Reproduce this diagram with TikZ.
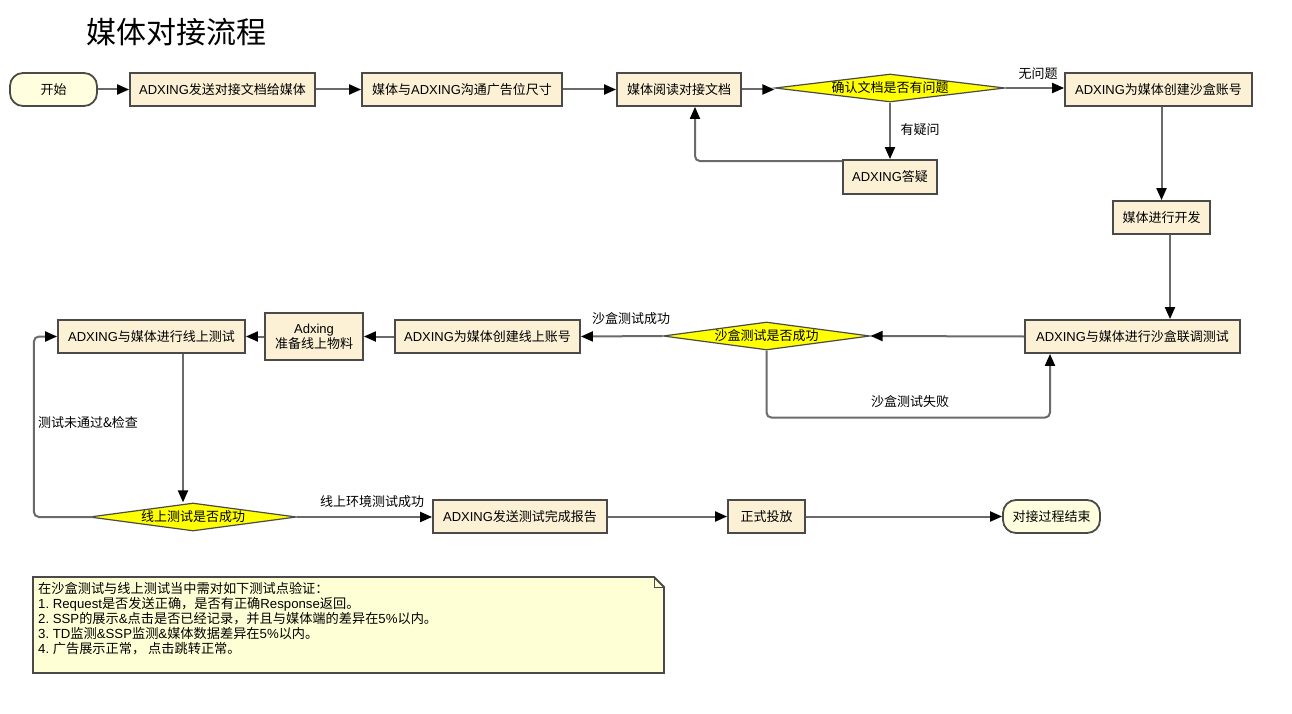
\documentclass[tikz,border=0pt]{standalone}
\usepackage{fontspec}
\setmainfont{Noto Sans CJK SC}
\newfontfamily\lat{Liberation Sans}
\usetikzlibrary{arrows.meta,shapes.geometric}
\definecolor{boxfill}{HTML}{FCF0D5}
\definecolor{termfill}{HTML}{FFFFDF}
\definecolor{notefill}{HTML}{FFFFD6}
\definecolor{bord}{HTML}{4A4A4A}
\definecolor{linec}{HTML}{6A6A6A}
\definecolor{decfill}{HTML}{FFFF00}
\begin{document}
\begin{tikzpicture}[x=1pt,y=-1pt,
  font=\fontsize{13}{15}\selectfont,
  proc/.style={draw=bord, line width=1.8pt, fill=boxfill, minimum height=33pt, inner sep=1pt, align=center},
  term/.style={proc, fill=termfill, rounded corners=13pt},
  dec/.style={diamond, draw=bord, line width=1.2pt, fill=decfill, inner sep=0pt, aspect=8, minimum height=28pt},
  arr/.style={draw=linec, line width=2pt, -{Triangle[length=12pt,width=10pt,fill=black,color=black]}},
  lab/.style={inner sep=0pt}
]
\useasboundingbox (0,0) rectangle (1292,714);

% title
\node[anchor=west, font=\fontsize{30}{34}\selectfont, inner sep=0pt] (title) at (86,32) {媒体对接流程};

% row 1
\node[term, minimum width=87pt] (start) at (53.5,89.5) {开始};
\node[proc, minimum width=185pt] (b1) at (222.5,89.5) {{\lat ADXING}发送对接文档给媒体};
\node[proc, minimum width=200pt] (b2) at (462,89.5) {媒体与{\lat ADXING}沟通广告位尺寸};
\node[proc, minimum width=124pt] (b3) at (679,89.5) {媒体阅读对接文档};
\node[dec, minimum width=230pt] (d1) at (890,88) {确认文档是否有问题};
\node[proc, minimum width=187pt] (s1) at (1158.5,89.5) {{\lat ADXING}为媒体创建沙盒账号};
\node[proc, minimum width=94pt, minimum height=34pt] (q) at (890,177) {{\lat ADXING}答疑};
\node[proc, minimum width=97pt] (dev) at (1161.5,217.5) {媒体进行开发};

% row 2
\node[proc, minimum width=215pt] (joint) at (1132.5,336.5) {{\lat ADXING}与媒体进行沙盒联调测试};
\node[dec, minimum width=207pt] (d2) at (766.5,336) {沙盒测试是否成功};
\node[proc, minimum width=185pt] (acc) at (487.5,336.5) {{\lat ADXING}为媒体创建线上账号};
\node[proc, minimum width=98pt, minimum height=47pt, inner sep=1pt,
      font=\fontsize{13}{13.5}\selectfont] (mat) at (314,336.5) {{\lat Adxing}\\准备线上物料};
\node[proc, minimum width=187pt] (ot) at (151.5,336.5) {{\lat ADXING}与媒体进行线上测试};

% row 3
\node[dec, minimum width=207pt] (d3) at (193,517) {线上测试是否成功};
\node[proc, minimum width=174pt] (rep) at (520,516.5) {{\lat ADXING}发送测试完成报告};
\node[proc, minimum width=77pt] (go) at (766.5,516.5) {正式投放};
\node[term, minimum width=97pt] (end) at (1051.5,516.5) {对接过程结束};

% connectors
\draw[arr] (start) -- (b1);
\draw[arr] (b1) -- (b2);
\draw[arr] (b2) -- (b3);
\draw[arr] (b3.east) -- (d1.west |- b3.east);
\draw[arr] (d1.east) -- (d1.east -| s1.west);
\node[lab] (l1) at (1038,74) {无问题};
\draw[arr] (d1.south) -- (q.north);
\node[lab] (l2) at (920,130) {有疑问};
\draw[arr, rounded corners=5pt] ([yshift=-2pt]q.north west) -| ([xshift=16pt]b3.south);
\draw[arr] (s1.south -| dev.north) -- (dev.north);
\draw[arr] ([xshift=8.5pt]dev.south) -- ([xshift=8.5pt]dev.south |- joint.north);
\draw[arr] (joint.west) -- (d2.east);
\draw[arr, rounded corners=5pt] (d2.south) -- ++(0,67) -| ([xshift=-82.5pt]joint.south);
\node[lab] (l3) at (910,402) {沙盒测试失败};
\draw[arr] (d2.west) -- (acc.east);
\node[lab] (l4) at (631,319) {沙盒测试成功};
\draw[arr] (acc.west) -- (mat.east |- acc.west);
\draw[arr] (mat.west |- ot.east) -- (ot.east);
\draw[arr] ([xshift=31.5pt]ot.south) -- ([xshift=31.5pt]ot.south |- d3.north);
\draw[arr, rounded corners=5pt] ([xshift=4pt]d3.west) -- ++(-59,0) |- (ot.west);
\node[lab] (l5) at (88,423) {测试未通过\&检查};
\draw[arr] (d3.east) -- (d3.east -| rep.west);
\node[lab] (l6) at (372,502) {线上环境测试成功};
\draw[arr] (rep) -- (go);
\draw[arr] (go) -- (end);

% note
\draw[draw=bord, line width=1.8pt, fill=notefill]
  (33,577) -- (654,577) -- (664,587) -- (664,673) -- (33,673) -- cycle;
\draw[draw=bord, line width=1pt] (654,577) -- (654,587) -- (664,587);
\node[anchor=north west, align=left, inner sep=0pt, font=\fontsize{13.2}{15}\selectfont] (note) at (38,582)
 {在沙盒测试与线上测试当中需对如下测试点验证：\\
  {\lat 1.\ Request}是否发送正确，是否有正确{\lat Response}返回。\\
  {\lat 2.\ SSP}的展示{\lat \&}点击是否已经记录，并且与媒体端的差异在{\lat 5\%}以内。\\
  {\lat 3.\ TD}监测{\lat \&SSP}监测{\lat \&}媒体数据差异在{\lat 5\%}以内。\\
  {\lat 4.\ }广告展示正常， 点击跳转正常。};
\end{tikzpicture}
\end{document}
